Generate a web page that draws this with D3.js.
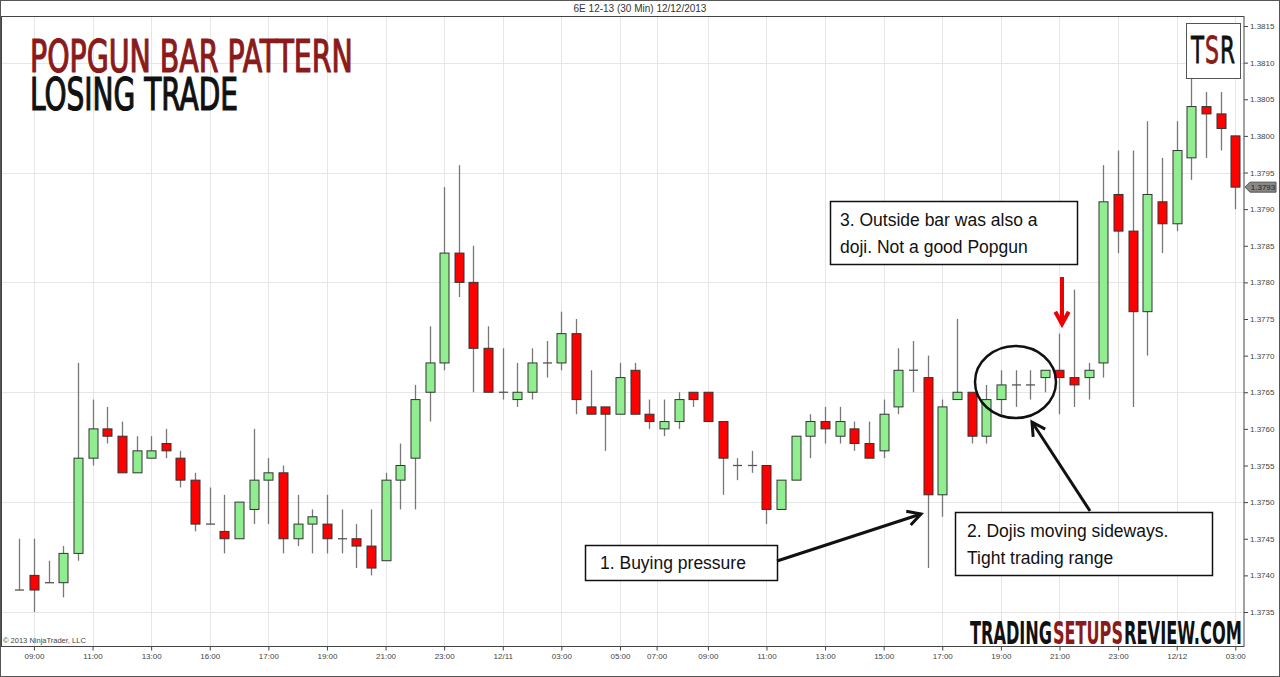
<!DOCTYPE html>
<html><head><meta charset="utf-8">
<script src="https://cdn.jsdelivr.net/npm/d3@7"></script>
<style>html,body{margin:0;padding:0;background:#fff;}svg{display:block;}</style>
</head><body>
<svg id="c" width="1280" height="677"></svg>
<script>
// ---- data ----
const opens  = [1.3738,1.3740,1.3739,1.3739,1.3743,1.3756,1.3760,1.3759,1.3754,1.3756,1.3758,1.3756,1.3753,1.3747,1.3746,1.3745,1.3749,1.3753,1.3754,1.3745,1.3747,1.3747,1.3745,1.3745,1.3744,1.3742,1.3753,1.3756,1.3765,1.3769,1.3784,1.3780,1.3771,1.3765,1.3764,1.3765,1.3769,1.3769,1.3773,1.3763,1.3763,1.3762,1.3768,1.3762,1.3760,1.3761,1.3765,1.3765,1.3761,1.3755,1.3755,1.3755,1.3749,1.3753,1.3759,1.3761,1.3759,1.3760,1.3758,1.3757,1.3763,1.3768,1.3767,1.3751,1.3764,1.3765,1.3759,1.3764,1.3766,1.3766,1.3767,1.3768,1.3767,1.3767,1.3769,1.3792,1.3787,1.3776,1.3791,1.3788,1.3797,1.3804,1.3803,1.3800];
const highs  = [1.3745,1.3745,1.3742,1.3744,1.3769,1.3764,1.3763,1.3761,1.3759,1.3759,1.3760,1.3757,1.3754,1.3752,1.3751,1.3750,1.3760,1.3756,1.3755,1.3751,1.3749,1.3751,1.3749,1.3747,1.3749,1.3754,1.3758,1.3766,1.3774,1.3793,1.3796,1.3785,1.3774,1.3771,1.3769,1.3771,1.3772,1.3776,1.3775,1.3768,1.3763,1.3769,1.3769,1.3764,1.3764,1.3765,1.3765,1.3765,1.3761,1.3756,1.3757,1.3755,1.3753,1.3759,1.3762,1.3763,1.3763,1.3761,1.3761,1.3764,1.3771,1.3772,1.3770,1.3764,1.3775,1.3765,1.3766,1.3768,1.3768,1.3768,1.3768,1.3773,1.3779,1.3769,1.3796,1.3798,1.3798,1.3802,1.3797,1.3802,1.3808,1.3806,1.3806,1.3800];
const lows   = [1.3738,1.3735,1.3739,1.3737,1.3742,1.3755,1.3758,1.3754,1.3754,1.3756,1.3756,1.3752,1.3746,1.3747,1.3743,1.3745,1.3747,1.3747,1.3743,1.3744,1.3743,1.3743,1.3743,1.3741,1.3740,1.3742,1.3749,1.3749,1.3761,1.3768,1.3778,1.3765,1.3765,1.3764,1.3763,1.3764,1.3767,1.3768,1.3762,1.3762,1.3757,1.3762,1.3762,1.3760,1.3759,1.3760,1.3763,1.3761,1.3751,1.3753,1.3754,1.3747,1.3749,1.3753,1.3756,1.3758,1.3758,1.3757,1.3756,1.3756,1.3762,1.3765,1.3741,1.3748,1.3764,1.3758,1.3758,1.3762,1.3763,1.3764,1.3765,1.3762,1.3763,1.3764,1.3767,1.3784,1.3763,1.3770,1.3784,1.3787,1.3794,1.3797,1.3798,1.3790];
const closes = [1.3738,1.3738,1.3739,1.3743,1.3756,1.3760,1.3759,1.3754,1.3757,1.3757,1.3757,1.3753,1.3747,1.3747,1.3745,1.3750,1.3753,1.3754,1.3745,1.3747,1.3748,1.3745,1.3745,1.3744,1.3741,1.3753,1.3755,1.3764,1.3769,1.3784,1.3780,1.3771,1.3765,1.3765,1.3765,1.3769,1.3769,1.3773,1.3764,1.3762,1.3762,1.3767,1.3762,1.3761,1.3761,1.3764,1.3764,1.3761,1.3756,1.3755,1.3755,1.3749,1.3753,1.3759,1.3761,1.3760,1.3761,1.3758,1.3756,1.3762,1.3768,1.3768,1.3751,1.3763,1.3765,1.3759,1.3764,1.3766,1.3766,1.3766,1.3768,1.3767,1.3766,1.3768,1.3791,1.3787,1.3776,1.3792,1.3788,1.3798,1.3804,1.3803,1.3801,1.3793];
const xTickPos    = [1,5,9,13,17,21,25,29,33,37,41,43.5,47,51,55,59,63,67,71,75,79,83];
const xTickLabels = ["09:00","11:00","13:00","16:00","17:00","19:00","21:00","23:00","12/11","03:00","05:00","07:00","09:00","11:00","13:00","15:00","17:00","19:00","21:00","23:00","12/12","03:00"];
const yTicks      = [1.3735,1.3740,1.3745,1.3750,1.3755,1.3760,1.3765,1.3770,1.3775,1.3780,1.3785,1.3790,1.3795,1.3800,1.3805,1.3810,1.3815];
const yGrid       = [1.3735,1.3750,1.3765,1.3780,1.3795,1.3810];
const lastPrice   = 1.3793;

// ---- layout ----
const svg = d3.select("#c");
const plot = {l:1.5, r:1244, t:16.5, b:646.5};
const x = d3.scaleLinear().domain([0, 83]).range([19.3, 1235.3]);
const y = d3.scaleLinear().domain([1.3735, 1.3815]).range([612, 26]);
const SANS = "'Liberation Sans', Arial, sans-serif";
const NARROW = "'Liberation Sans Narrow', 'DejaVu Sans Condensed', sans-serif";

// background frame
svg.append("rect").attr("x",0.5).attr("y",0.5).attr("width",1279).attr("height",676).attr("fill","#fff").attr("stroke","#555");
svg.append("text").attr("x",640).attr("y",12).attr("text-anchor","middle").attr("font-family",SANS).attr("font-size",10).attr("fill","#333").text("6E 12-13 (30 Min)  12/12/2013");

// grid
const g = svg.append("g");
g.selectAll(".hg").data(yGrid).enter().append("line")
  .attr("x1",plot.l).attr("x2",plot.r).attr("y1",d=>Math.round(y(d))+0.5).attr("y2",d=>Math.round(y(d))+0.5)
  .attr("stroke","#e6e6e6").attr("stroke-width",1);
g.selectAll(".vg").data(xTickPos).enter().append("line")
  .attr("y1",plot.t).attr("y2",plot.b).attr("x1",d=>Math.round(x(d))+0.5).attr("x2",d=>Math.round(x(d))+0.5)
  .attr("stroke","#e6e6e6").attr("stroke-width",1);

// plot frame
svg.append("rect").attr("x",plot.l).attr("y",plot.t).attr("width",plot.r-plot.l).attr("height",plot.b-plot.t)
  .attr("fill","none").attr("stroke","#444").attr("stroke-width",1);

// axes
const yAxis = d3.axisRight(y).tickValues(yTicks).tickFormat(d3.format(".4f")).tickSize(4).tickPadding(2);
const ya = svg.append("g").attr("transform",`translate(${plot.r},0)`).call(yAxis);
ya.select(".domain").remove();
ya.selectAll("text").attr("font-family",SANS).attr("font-size",8).attr("fill","#444");
ya.selectAll("line").attr("stroke","#444");

const xAxis = d3.axisBottom(x).tickValues(xTickPos).tickFormat((d,i)=>xTickLabels[i]).tickSize(4).tickPadding(3);
const xa = svg.append("g").attr("transform",`translate(0,${plot.b})`).call(xAxis);
xa.select(".domain").remove();
xa.selectAll("text").attr("font-family",SANS).attr("font-size",8).attr("fill","#444");
xa.selectAll("line").attr("stroke","#444");

svg.append("text").attr("x",3).attr("y",643).attr("font-family",SANS).attr("font-size",7.5).attr("fill","#444").text("© 2013 NinjaTrader, LLC");

// candles
const bars = opens.map((o,i)=>({i,o,h:highs[i],l:lows[i],c:closes[i]}));
const bw = 9;
const cg = svg.append("g");
cg.selectAll(".wick").data(bars).enter().append("line")
  .attr("x1",d=>Math.round(x(d.i))+0.5).attr("x2",d=>Math.round(x(d.i))+0.5)
  .attr("y1",d=>y(d.h)).attr("y2",d=>y(d.l))
  .attr("stroke","#777").attr("stroke-width",1.3);
cg.selectAll(".body").data(bars.filter(d=>d.o!==d.c)).enter().append("rect")
  .attr("x",d=>Math.round(x(d.i))-bw/2+0.5).attr("width",bw)
  .attr("y",d=>y(Math.max(d.o,d.c))).attr("height",d=>Math.abs(y(d.o)-y(d.c)))
  .attr("fill",d=>d.c>d.o?"#90ee90":"#ff0000").attr("stroke","#333").attr("stroke-width",1);
cg.selectAll(".doji").data(bars.filter(d=>d.o===d.c)).enter().append("line")
  .attr("x1",d=>Math.round(x(d.i))-bw/2+0.5).attr("x2",d=>Math.round(x(d.i))+bw/2+0.5)
  .attr("y1",d=>y(d.c)).attr("y2",d=>y(d.c))
  .attr("stroke","#555").attr("stroke-width",1.3);

// last price tag
const ly = y(lastPrice);
svg.append("path").attr("d",`M${plot.r+1},${ly} L${plot.r+6},${ly-5} L${plot.r+32},${ly-5} L${plot.r+32},${ly+5} L${plot.r+6},${ly+5} Z`)
  .attr("fill","#888").attr("stroke","#555");
svg.append("text").attr("x",plot.r+19).attr("y",ly+3).attr("text-anchor","middle").attr("font-family",SANS).attr("font-size",8).attr("fill","#222").text(d3.format(".4f")(lastPrice));

// text fitted to a width by horizontal scaling
function fitText(xp,yp,size,color,width,str,opts){
  opts = opts||{};
  const t = svg.append("text").attr("x",0).attr("y",0).attr("font-family",NARROW).attr("font-size",size)
    .attr("fill",color).attr("font-weight",opts.bold?"bold":"normal").text(str);
  if(opts.sw) t.attr("stroke",color).attr("stroke-width",opts.sw);
  const w = t.node().getComputedTextLength();
  t.attr("transform",`translate(${xp},${yp}) scale(${width/w},${opts.sy||1})`);
  return t;
}

// headings (smaller font, stretched vertically to the reference cap height)
fitText(30,72,36,"#8b1a1a",323,"POPGUN BAR PATTERN",{sw:1,sy:44/36});
fitText(30,110,36,"#111",208,"LOSING TRADE",{sw:1,sy:44/36});

// TSR logo
svg.append("rect").attr("x",1186.5).attr("y",23.5).attr("width",54).attr("height",55).attr("fill","#fff").attr("stroke","#555");
fitText(1191,63,37,"#111",13,"T",{sw:0.8});
fitText(1205,63,37,"#8b1a1a",14,"S",{sw:0.8});
fitText(1220,63,37,"#111",15,"R",{sw:0.8});

// watermark
fitText(970,644,32,"#111",82,"TRADING",{bold:true});
fitText(1053,644,32,"#8b1a1a",70,"SETUPS",{bold:true});
fitText(1124,644,32,"#111",118,"REVIEW.COM",{bold:true});

// annotation boxes
function box(x0,y0,w,h,lines,tx,ty,lh){
  svg.append("rect").attr("x",x0+0.5).attr("y",y0+0.5).attr("width",w).attr("height",h).attr("fill","#fff").attr("stroke","#111").attr("stroke-width",1.5);
  lines.forEach((t,k)=>svg.append("text").attr("x",tx).attr("y",ty+k*lh).attr("font-family",SANS).attr("font-size",17.5).attr("fill","#111").text(t));
}
box(830,201,247,63,["3. Outside bar was also a","doji. Not a good Popgun"],840,226,27);
box(955,512,257,63,["2. Dojis moving sideways.","Tight trading range"],967,537,27);
box(585,545,192,35,["1. Buying pressure"],600,569,27);

// ellipse
svg.append("ellipse").attr("cx",1015.5).attr("cy",382).attr("rx",40.5).attr("ry",36).attr("fill","none").attr("stroke","#111").attr("stroke-width",2.5);

// arrows
function arrow(x1,y1,x2,y2,color,w,hl){
  const a = Math.atan2(y2-y1,x2-x1), s=0.5;
  svg.append("line").attr("x1",x1).attr("y1",y1).attr("x2",x2).attr("y2",y2).attr("stroke",color).attr("stroke-width",w);
  const p1=[x2-hl*Math.cos(a-s), y2-hl*Math.sin(a-s)], p2=[x2-hl*Math.cos(a+s), y2-hl*Math.sin(a+s)];
  svg.append("path").attr("d",`M${p1[0]},${p1[1]} L${x2},${y2} L${p2[0]},${p2[1]}`).attr("fill","none").attr("stroke",color).attr("stroke-width",w).attr("stroke-linejoin","miter");
}
arrow(777,561,921,514,"#111",3,15);
arrow(1090,511,1032,422,"#111",3,15);
arrow(1062,277,1062,324,"#e00",4,14);
</script>
</body></html>
